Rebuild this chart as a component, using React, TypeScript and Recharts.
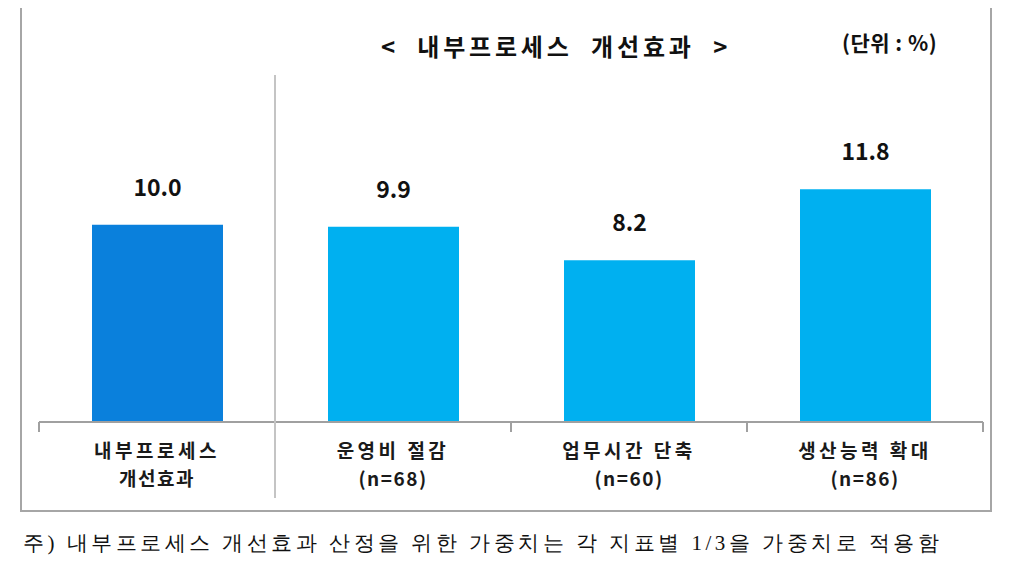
import { Bar, BarChart, Cell, LabelList, XAxis, YAxis } from "recharts";

const names = ["내부프로세스", "운영비 절감", "업무시간 단축", "생산능력 확대"];
const subNames = ["개선효과", "(n=68)", "(n=60)", "(n=86)"];
const values = [10.0, 9.9, 8.2, 11.8];
const barColors = ["#0A80DC", "#00B0F0", "#00B0F0", "#00B0F0"];

const data = names.map((name, i) => ({ name, sub: subNames[i], value: values[i] }));

const FONT = "'Noto Sans CJK KR', 'Liberation Sans', sans-serif";
const CHART_W = 1009;
const CHART_H = 581;
const MARGIN = { top: 75, right: 26, left: 39, bottom: 79 };
const BAND = (CHART_W - MARGIN.left - MARGIN.right) / names.length;
const PLOT_H = CHART_H - MARGIN.top - MARGIN.bottom - 80;

function CategoryTick(props: any) {
  const { x, y, payload, index } = props;
  const left = x - BAND / 2;
  const right = x + BAND / 2;
  return (
    <g>
      <line x1={left} x2={left} y1={y} y2={y + 10} stroke="#a0a0a0" strokeWidth={2} />
      {index === names.length - 1 && (
        <line x1={right} x2={right} y1={y} y2={y + 10} stroke="#a0a0a0" strokeWidth={2} />
      )}
      {index === 1 && (
        <line x1={left} x2={left} y1={y - PLOT_H} y2={498} stroke="#c4c4c4" strokeWidth={2} />
      )}
      <text
        x={x}
        y={y + 36}
        textAnchor="middle"
        fontFamily={FONT}
        fontWeight={700}
        fontSize={19}
        fill="#1a1a1a"
      >
        <tspan x={x} letterSpacing={3.5}>
          {payload.value}
        </tspan>
        <tspan x={x} dy={28} letterSpacing={1.5}>
          {subNames[index]}
        </tspan>
      </text>
    </g>
  );
}

export default function App() {
  return (
    <div style={{ position: "relative", margin: -8, width: 1009, height: 581, background: "#fff" }}>
      <div
        style={{
          position: "absolute",
          left: 20,
          top: 4,
          width: 968,
          height: 504,
          border: "2px solid #a6a6a6",
        }}
      />
      <div
        style={{
          position: "absolute",
          left: 556,
          top: 45,
          transform: "translate(-50%, -50%)",
          whiteSpace: "pre",
          fontFamily: FONT,
          fontWeight: 700,
          fontSize: 24,
          letterSpacing: 3.8,
          color: "#111",
        }}
      >
        {"<  내부프로세스  개선효과  >"}
      </div>
      <div
        style={{
          position: "absolute",
          left: 842,
          top: 42,
          transform: "translateY(-50%)",
          whiteSpace: "pre",
          fontFamily: FONT,
          fontWeight: 700,
          fontSize: 21,
          letterSpacing: 0.5,
          color: "#111",
        }}
      >
        (단위 : %)
      </div>
      <div style={{ position: "absolute", left: 0, top: 0 }}>
        <BarChart width={CHART_W} height={CHART_H} data={data} margin={MARGIN}>
          <XAxis
            dataKey="name"
            height={80}
            axisLine={{ stroke: "#a0a0a0", strokeWidth: 2 }}
            tickLine={false}
            tickSize={0}
            tickMargin={0}
            tick={CategoryTick}
            interval={0}
          />
          <YAxis hide domain={[0, 17.6]} allowDataOverflow />
          <Bar dataKey="value" barSize={131} isAnimationActive={false}>
            {data.map((d, i) => (
              <Cell key={d.name} fill={barColors[i]} />
            ))}
            <LabelList
              dataKey="value"
              position="top"
              offset={29}
              formatter={(v: any) => Number(v).toFixed(1)}
              fontFamily={FONT}
              fontWeight={700}
              fontSize={23}
              fill="#111"
            />
          </Bar>
        </BarChart>
      </div>
      <div
        style={{
          position: "absolute",
          left: 23,
          top: 543,
          transform: "translateY(-50%)",
          whiteSpace: "pre",
          fontFamily: "serif",
          fontSize: 21,
          letterSpacing: 3.5,
          color: "#111",
        }}
      >
        주) 내부프로세스 개선효과 산정을 위한 가중치는 각 지표별 1/3을 가중치로 적용함
      </div>
    </div>
  );
}
